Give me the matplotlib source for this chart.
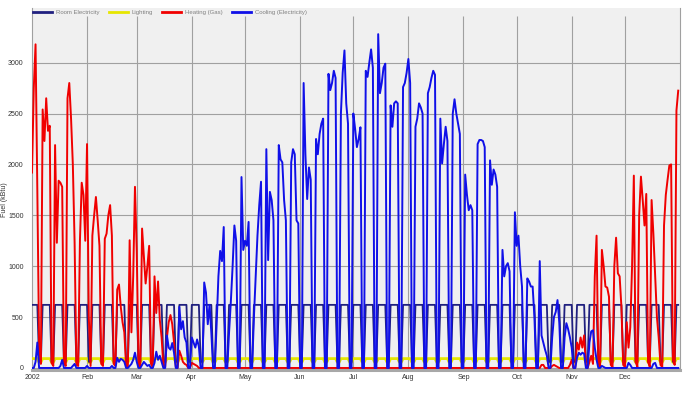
import numpy as np
import pandas as pd
import matplotlib
matplotlib.use("Agg")
import matplotlib.pyplot as plt

plt.rcParams['font.family'] = ['Liberation Sans', 'DejaVu Sans']

# daily values for 2002, one row per week (Mon..Sun); first row starts Tue Jan 1, last row is Mon-Tue Dec 30-31
heating_gas = [
    1920, 2750, 3180, 1750, 220, 40,
    2540, 2230, 2650, 2330, 2380, 50, 20,
    2190, 1230, 1840, 1820, 1780, 50, 20,
    2650, 2800, 2450, 2000, 1230, 30, 20,
    1250, 1820, 1700, 1250, 2200, 500, 20,
    1300, 1500, 1680, 1450, 1200, 40, 20,
    1270, 1320, 1500, 1600, 1300, 40, 20,
    770, 820, 600, 450, 350, 20, 10,
    1255, 350, 900, 1780, 1150, 30, 10,
    1370, 1100, 830, 1000, 1200, 40, 10,
    900, 540, 850, 470, 300, 20, 10,
    300, 450, 520, 430, 250, 10, 0,
    170, 120, 60, 40, 30, 0, 0,
    50, 40, 30, 20, 0, 0, 0,
] + [0] * (27 * 7) + [
    0, 30, 30, 0, 0, 0, 0,
    20, 30, 20, 10, 0, 0, 0,
    0, 0, 0, 30, 80, 0, 0,
    250, 180, 300, 200, 320, 30, 0,
    60, 120, 40, 900, 1300, 40, 10,
    1160, 1000, 800, 790, 700, 30, 10,
    1000, 1280, 930, 900, 600, 30, 10,
    450, 200, 400, 1000, 1890, 60, 10,
    1500, 1880, 1650, 1400, 1710, 60, 10,
    1650, 1320, 900, 500, 300, 30, 10,
    1400, 1700, 1850, 1990, 2000, 80, 30,
    2530, 2725,
]

cooling_elec = [
    0, 0, 60, 250, 0, 0,
    0, 0, 0, 0, 0, 0, 0,
    0, 0, 0, 20, 80, 0, 0,
    0, 0, 0, 20, 40, 0, 0,
    0, 0, 0, 0, 20, 0, 0,
    0, 0, 0, 0, 0, 0, 0,
    0, 0, 0, 0, 20, 0, 0,
    100, 60, 90, 80, 60, 0, 0,
    20, 40, 80, 150, 60, 0, 0,
    30, 60, 40, 20, 30, 0, 0,
    50, 160, 80, 120, 60, 0, 0,
    320, 200, 180, 245, 150, 0, 0,
    600, 380, 460, 300, 250, 0, 0,
    300, 250, 200, 280, 210, 0, 0,
    840, 740, 430, 620, 350, 0, 0,
    430, 900, 1150, 1050, 1385, 0, 0,
    350, 650, 1000, 1400, 1250, 0, 0,
    1876, 1160, 1250, 1200, 1435, 0, 0,
    500, 900, 1300, 1600, 1830, 0, 0,
    2150, 1060, 1730, 1650, 1450, 0, 0,
    2190, 2050, 2020, 1650, 1450, 0, 0,
    2020, 2150, 2100, 1450, 1420, 0, 0,
    2800, 2100, 1660, 1970, 1850, 0, 0,
    2250, 2100, 2300, 2400, 2450, 0, 0,
    2890, 2730, 2800, 2920, 2850, 0, 0,
    2500, 2900, 3120, 2600, 2400, 0, 0,
    2500, 2350, 2170, 2250, 2365, 0, 0,
    2920, 2860, 3000, 3130, 2950, 0, 0,
    3280, 2700, 2800, 2950, 2990, 0, 0,
    2580, 2370, 2600, 2620, 2600, 0, 0,
    2760, 2800, 2900, 3036, 2800, 0, 0,
    2370, 2450, 2600, 2560, 2500, 0, 0,
    2700, 2760, 2850, 2920, 2880, 0, 0,
    2450, 2010, 2200, 2370, 2230, 0, 0,
    2500, 2640, 2500, 2400, 2300, 0, 0,
    1900, 1700, 1550, 1600, 1550, 0, 0,
    2200, 2240, 2240, 2230, 2170, 0, 0,
    2040, 1800, 1950, 1900, 1780, 0, 0,
    1160, 900, 1000, 1030, 950, 0, 0,
    1530, 1200, 1300, 1000, 800, 0, 0,
    880, 850, 800, 800, 500, 0, 0,
    1050, 320, 250, 180, 120, 0, 0,
    300, 500, 550, 667, 450, 0, 0,
    300, 440, 380, 300, 200, 0, 0,
    100, 150, 130, 150, 140, 0, 0,
    250, 360, 370, 200, 80, 0, 0,
    20, 10, 0, 0, 0, 0, 0,
    0, 0, 0, 0, 0, 0, 0,
    0, 50, 30, 0, 0, 0, 0,
    0, 0, 0, 0, 0, 0, 0,
    0, 40, 50, 0, 0, 0, 0,
    0, 0, 0, 0, 0, 0, 0,
    0, 0,
]

# schedule levels (weekday, weekend)
room_elec_levels = (620, 60)
lighting_levels = (92, 55)

month_labels = ['2002', 'Feb', 'Mar', 'Apr', 'May', 'Jun', 'Jul', 'Aug', 'Sep', 'Oct', 'Nov', 'Dec']
series_names = ['Room Electricity', 'Lighting', 'Heating (Gas)', 'Cooling (Electricity)']
series_colors = ['#20207f', '#e6e600', '#f00000', '#1010e8']

dates = pd.date_range('2002-01-01', '2002-12-31', freq='D')
is_weekend = dates.dayofweek >= 5
room_elec = np.where(is_weekend, room_elec_levels[1], room_elec_levels[0])
lighting = np.where(is_weekend, lighting_levels[1], lighting_levels[0])

fig = plt.figure(figsize=(6.84, 3.95), dpi=100)
ax = fig.add_axes([32 / 684, 25 / 395, 648 / 684, 362 / 395])
ax.set_facecolor('#f0f0f0')

grid_c = '#a0a0a0'
month_starts = pd.date_range('2002-01-01', periods=12, freq='MS')
ax.vlines(month_starts[1:], 0, 3460, color=grid_c, lw=0.8, zorder=1)
ax.set_yticks(np.arange(0, 3001, 500))
ax.grid(axis='y', color=grid_c, lw=0.8, zorder=1)
ax.set_axisbelow(True)

ax.plot(dates, lighting, color=series_colors[1], lw=2.0, zorder=3)
ax.plot(dates, room_elec, color=series_colors[0], lw=1.3, zorder=4)
ax.plot(dates, heating_gas, color=series_colors[2], lw=1.4, zorder=5)
ax.plot(dates, cooling_elec, color=series_colors[3], lw=1.4, zorder=6)

ax.set_xlim(pd.Timestamp('2002-01-01'), pd.Timestamp('2003-01-01'))
ax.set_ylim(-20, 3537)
ax.set_xticks(month_starts)
ax.set_xticklabels(month_labels)
ax.tick_params(length=0, labelsize=5, colors='#333333')
ax.tick_params(axis='y', pad=6)
ax.tick_params(axis='x', pad=3)

for s in ['left', 'right']:
    ax.spines[s].set_color('#a0a0a0')
    ax.spines[s].set_linewidth(0.8)
ax.spines['top'].set_visible(False)
ax.spines['bottom'].set_color('#a8a8a8')
ax.spines['bottom'].set_linewidth(2.2)

ax.set_ylabel('Fuel (kBtu)', fontsize=5, color='#333333')
ax.yaxis.set_label_coords(-24 / 648, 0.47)

handles = [plt.Line2D([], [], color=c, lw=2) for c in series_colors]
leg = ax.legend(handles, series_names, loc='center left', bbox_to_anchor=(0.0015, 1 - 4.7 / 362),
                ncol=4, frameon=False, fontsize=4.3, handlelength=3.2, handletextpad=0.67,
                columnspacing=1.5, borderpad=0, borderaxespad=0)
for t in leg.get_texts():
    t.set_color('#808080')

plt.savefig('out.png', dpi=100)
plt.close()
